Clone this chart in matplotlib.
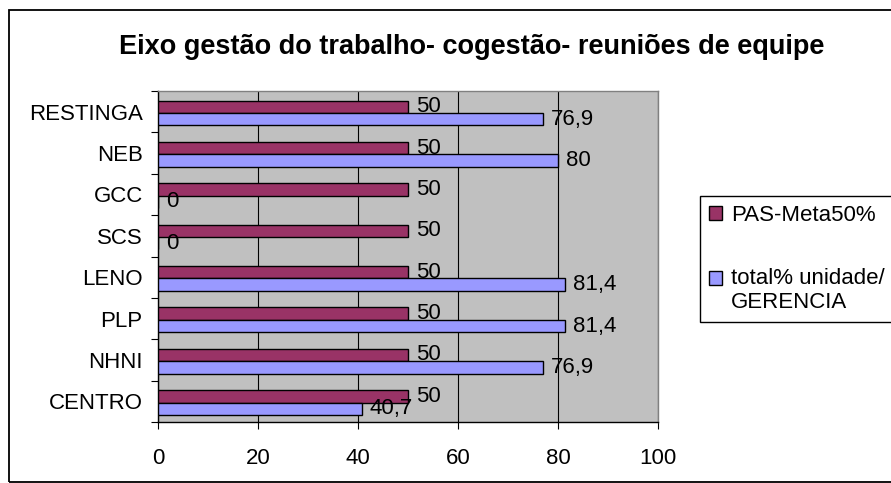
import matplotlib.pyplot as plt
from matplotlib.patches import Rectangle, Patch
import numpy as np

plt.rcParams['font.family'] = ['Liberation Sans', 'DejaVu Sans']

units = ['CENTRO', 'NHNI', 'PLP', 'LENO', 'SCS', 'GCC', 'NEB', 'RESTINGA']
meta = [50, 50, 50, 50, 50, 50, 50, 50]
total_unidade = [40.7, 76.9, 81.4, 81.4, 0, 0, 80, 76.9]

meta_color = '#993366'
total_color = '#9999FF'


def fmt(v):
    s = f'{v:g}'
    return s.replace('.', ',')


fig = plt.figure(figsize=(8.91, 4.83), dpi=100)
ax = fig.add_axes([158 / 891, 61 / 483, 500 / 891, 331 / 483])

y = np.arange(len(units))
h = 0.3
off = 0.03
ax.barh(y + h / 2 - off, meta, height=h, color=meta_color, edgecolor='black',
        linewidth=1.0, zorder=3)
ax.barh(y - h / 2 - off, total_unidade, height=h, color=total_color, edgecolor='black',
        linewidth=1.0, zorder=3)

# value labels next to each bar end
for yi, v in zip(y, meta):
    ax.annotate(fmt(v), (v, yi + h / 2 - off), xytext=(6, 0), textcoords='offset points',
                ha='left', va='center', fontsize=16, zorder=4)
for yi, v in zip(y, total_unidade):
    ax.annotate(fmt(v), (v, yi - h / 2 - off), xytext=(6, 0), textcoords='offset points',
                ha='left', va='center', fontsize=16, zorder=4)

ax.set_xlim(0, 100)
ax.set_ylim(-0.5, len(units) - 0.5)
ax.set_facecolor('#C0C0C0')
ax.set_xticks(np.arange(0, 101, 20))
ax.xaxis.grid(True, color='black', linewidth=0.8, zorder=1)
ax.set_axisbelow(True)

ax.set_yticks(y)
ax.set_yticklabels(units)
ax.set_yticks(np.arange(-0.5, len(units), 1), minor=True)
ax.tick_params(axis='y', which='major', length=0, pad=11, labelsize=16)
ax.tick_params(axis='y', which='minor', length=5, width=0.8, direction='out')
ax.tick_params(axis='x', length=5, width=0.8, direction='out', pad=14, labelsize=16)

for side in ('top', 'right'):
    ax.spines[side].set_color('#808080')
    ax.spines[side].set_linewidth(1.0)
for side in ('left', 'bottom'):
    ax.spines[side].set_color('black')
    ax.spines[side].set_linewidth(1.0)

fig.suptitle('Eixo gestão do trabalho- cogestão- reuniões de equipe',
             x=472 / 891, y=1 - 47 / 483, va='center', fontsize=19.5, fontweight='bold')

handles = [Patch(facecolor=meta_color, edgecolor='black', linewidth=1.0),
           Patch(facecolor=total_color, edgecolor='black', linewidth=1.0)]
leg = fig.legend(handles, ['PAS-Meta50%', 'total% unidade/\nGERENCIA'],
                 loc='upper left', bbox_to_anchor=(700 / 891, 1 - 196 / 483),
                 borderaxespad=0, fontsize=16, handlelength=0.6, handleheight=0.6,
                 handletextpad=0.4, borderpad=0.4, labelspacing=1.9,
                 fancybox=False, edgecolor='black', framealpha=1)
leg.get_frame().set_linewidth(1.0)
# line the second swatch up with the first line of its two-line label
sw = leg.legend_handles[1]
sw.set_y(sw.get_y() + 9.4)

# chart border
fig.patches.append(Rectangle((9 / 891, 1.5 / 483), 1.0, 471.5 / 483, transform=fig.transFigure,
                             fill=False, edgecolor='black', linewidth=1.3, clip_on=False))

fig.savefig('out.png', dpi=100)
